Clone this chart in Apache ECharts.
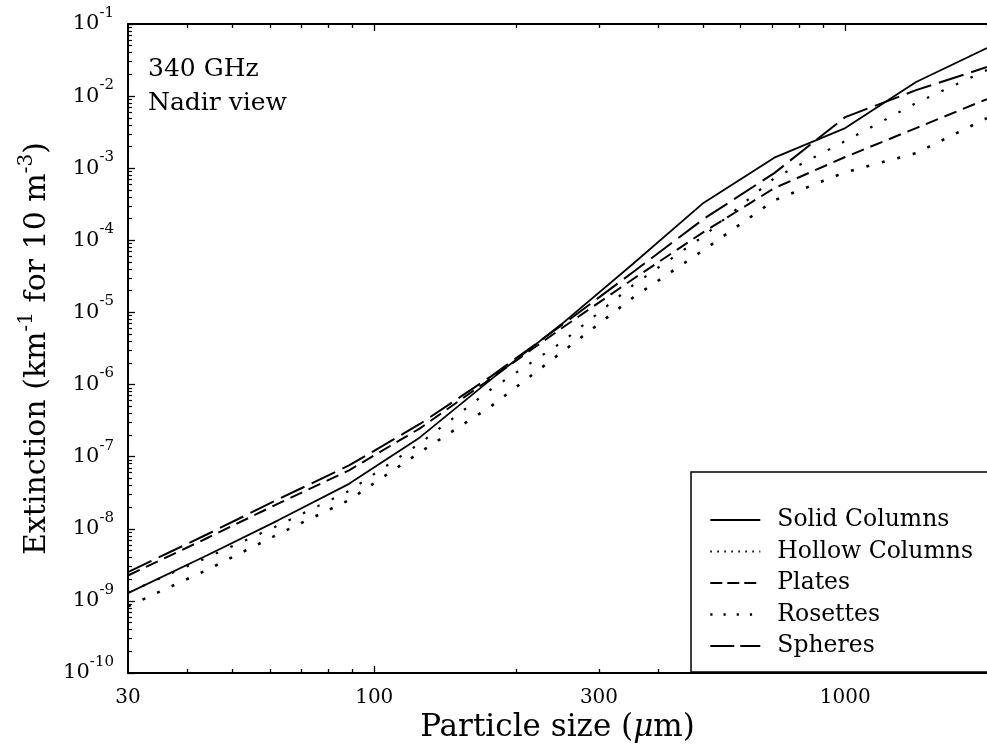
<!DOCTYPE html>
<html>
<head>
<meta charset="utf-8">
<script src="https://cdn.jsdelivr.net/npm/echarts@6/dist/echarts.min.js"></script>
<style>
  html, body { margin: 0; padding: 0; background: #ffffff; }
  #chart { width: 987px; height: 751px; }
</style>
</head>
<body>
<div id="chart"></div>
<script>
// Particle sizes (µm) at which the extinction was computed
const particleSize = [30, 44.2, 62.5, 88.4, 125, 177, 250, 354, 500, 707, 1000, 1414, 2000];

// Extinction (km^-1 for 10 m^-3) for each crystal habit
const solidColumns  = [1.28e-9, 4.3e-9, 1.31e-8, 4.2e-8, 1.85e-7, 1.18e-6, 6.9e-6, 4.7e-5, 3.3e-4, 1.4e-3, 3.6e-3, 1.57e-2, 4.65e-2];
const hollowColumns = [1.31e-9, 4.0e-9, 1.11e-8, 3.35e-8, 1.53e-7, 8.6e-7, 3.85e-6, 2.38e-5, 1.14e-4, 7.3e-4, 2.38e-3, 8.0e-3, 2.3e-2];
const plates        = [2.25e-9, 7.45e-9, 2.23e-8, 6.46e-8, 2.47e-7, 1.22e-6, 6.04e-6, 2.89e-5, 1.3e-4, 5.3e-4, 1.43e-3, 3.6e-3, 9.1e-3];
const rosettes      = [8.4e-10, 2.7e-9, 8.4e-9, 2.5e-8, 1.15e-7, 5.0e-7, 2.8e-6, 1.6e-5, 7.3e-5, 3.6e-4, 8.8e-4, 1.62e-3, 4.95e-3];
const spheres       = [2.51e-9, 8.4e-9, 2.56e-8, 7.55e-8, 2.84e-7, 1.3e-6, 6.64e-6, 3.61e-5, 1.97e-4, 8.56e-4, 5.11e-3, 1.21e-2, 2.53e-2];

const seriesNames = ['Solid Columns', 'Hollow Columns', 'Plates', 'Rosettes', 'Spheres'];

// Axis ticks and labels
const xTickLabels = [30, 100, 300, 1000];
const xMajorTicks = [100, 1000];
const xMinorTicks = [40, 50, 60, 70, 80, 90, 200, 300, 400, 500, 600, 700, 800, 900, 2000];
const yExponents = [-10, -9, -8, -7, -6, -5, -4, -3, -2, -1];

const yMajorTicks = yExponents.map(e => Math.pow(10, e));
const yMinorTicks = [];
yExponents.slice(0, -1).forEach(e => {
  for (let m = 2; m <= 9; m++) yMinorTicks.push(m * Math.pow(10, e));
});

const FONT = 'DejaVu Serif';
const X_MIN = 30, X_MAX = 2000, Y_MIN = 1e-10, Y_MAX = 1e-1;

// Line patterns: one for the plotted curve, one for the short legend sample
const styles = {
  'Solid Columns':  { plot: 'solid',    key: 'solid',    width: 1.8 },
  'Hollow Columns': { plot: [2.5, 13.5], key: [1.6, 5.4], width: 2.2 },
  'Plates':         { plot: [13, 7],    key: [12, 5],    width: 2 },
  'Rosettes':       { plot: [3, 13],    key: [2.2, 11],  width: 2.6 },
  'Spheres':        { plot: [26, 8],    key: [24, 6],    width: 2 }
};

const pairs = ys => particleSize.map((x, i) => [x, ys[i]]);

function curve(name, ys) {
  const st = styles[name];
  return {
    name: name,
    type: 'line',
    data: pairs(ys),
    symbol: 'none',
    silent: true,
    animation: false,
    xAxisIndex: 0,
    yAxisIndex: 0,
    itemStyle: { color: '#000' },
    lineStyle: { color: '#000', width: st.width, type: st.plot, cap: 'butt' }
  };
}

function tickAxis(position, values, len, showLine) {
  return {
    type: 'log', logBase: 10, min: X_MIN, max: X_MAX, position: position, gridIndex: 0,
    axisLine: { show: showLine, lineStyle: { color: '#000', width: 2 } },
    axisTick: { show: true, inside: true, length: len, customValues: values, lineStyle: { color: '#000', width: 1.3 } },
    axisLabel: { show: false },
    splitLine: { show: false }
  };
}

const chart = echarts.init(document.getElementById('chart'), null, { renderer: 'canvas' });

chart.setOption({
  animation: false,
  backgroundColor: '#ffffff',
  grid: { left: 128, top: 24, width: 868, height: 649, containLabel: false },
  xAxis: [
    {
      type: 'log', logBase: 10, min: X_MIN, max: X_MAX, position: 'bottom',
      name: '{t|Particle size (}{mu|μ}{t|m)}',
      nameLocation: 'middle', nameGap: 37,
      nameTextStyle: {
        rich: {
          t: { fontFamily: FONT, fontSize: 31, color: '#000' },
          mu: { fontFamily: FONT, fontSize: 31, fontStyle: 'italic', color: '#000' }
        }
      },
      axisLine: { show: true, lineStyle: { color: '#000', width: 2 } },
      axisTick: { show: true, inside: true, length: 7, customValues: xMajorTicks, lineStyle: { color: '#000', width: 1.3 } },
      axisLabel: {
        show: true, customValues: xTickLabels, margin: 15,
        fontFamily: FONT, fontSize: 20, color: '#000',
        formatter: v => String(Math.round(v))
      },
      splitLine: { show: false }
    },
    tickAxis('bottom', xMinorTicks, 4, false),
    tickAxis('top', xMajorTicks, 7, true),
    tickAxis('top', xMinorTicks, 4, false)
  ],
  yAxis: [
    {
      type: 'log', logBase: 10, min: Y_MIN, max: Y_MAX, position: 'left',
      name: '{t|Extinction (km}{s|-1}{t| for 10 m}{s|-3}{t|)}',
      nameLocation: 'middle', nameRotate: 90, nameGap: 70,
      nameTextStyle: {
        rich: {
          t: { fontFamily: FONT, fontSize: 30, color: '#000', verticalAlign: 'bottom', lineHeight: 30 },
          s: { fontFamily: FONT, fontSize: 20, color: '#000', verticalAlign: 'bottom', lineHeight: 20, padding: [0, 0, 15, 0] }
        }
      },
      axisLine: { show: true, lineStyle: { color: '#000', width: 2 } },
      axisTick: { show: true, inside: true, length: 7, customValues: yMajorTicks, lineStyle: { color: '#000', width: 1.3 } },
      axisLabel: {
        show: true, customValues: yMajorTicks, margin: 14,
        formatter: v => '{b|10}{s|' + Math.round(Math.log10(v)) + '}',
        rich: {
          b: { fontFamily: FONT, fontSize: 21, color: '#000', verticalAlign: 'bottom', lineHeight: 21 },
          s: { fontFamily: FONT, fontSize: 15, color: '#000', verticalAlign: 'bottom', lineHeight: 15, padding: [0, 0, 14, 0] }
        }
      },
      splitLine: { show: false }
    },
    {
      type: 'log', logBase: 10, min: Y_MIN, max: Y_MAX, position: 'left', gridIndex: 0,
      axisLine: { show: false },
      axisTick: { show: true, inside: true, length: 4, customValues: yMinorTicks, lineStyle: { color: '#000', width: 1.2 } },
      axisLabel: { show: false },
      splitLine: { show: false }
    }
  ],
  legend: {
    orient: 'vertical', left: 691, top: 472,
    padding: [36, 140, 14, 18],
    itemWidth: 50, itemHeight: 14, itemGap: 7.5,
    backgroundColor: '#ffffff', borderColor: '#000', borderWidth: 1.5, borderRadius: 0,
    selectedMode: false,
    itemStyle: { color: 'rgba(0,0,0,0)', borderWidth: 0, opacity: 0 },
    textStyle: { fontFamily: FONT, fontSize: 23.5, color: '#000', padding: [0, 0, 0, 12] },
    data: seriesNames.map(n => ({
      name: n,
      lineStyle: { color: '#000', width: styles[n].width, type: styles[n].key }
    }))
  },
  graphic: [
    {
      type: 'text', left: 148, top: 52, silent: true,
      style: { text: '340 GHz\nNadir view', fontFamily: FONT, fontSize: 25, lineHeight: 34, fill: '#000' }
    }
  ],
  series: [
    curve('Solid Columns', solidColumns),
    curve('Hollow Columns', hollowColumns),
    curve('Plates', plates),
    curve('Rosettes', rosettes),
    curve('Spheres', spheres)
  ]
});
</script>
</body>
</html>
